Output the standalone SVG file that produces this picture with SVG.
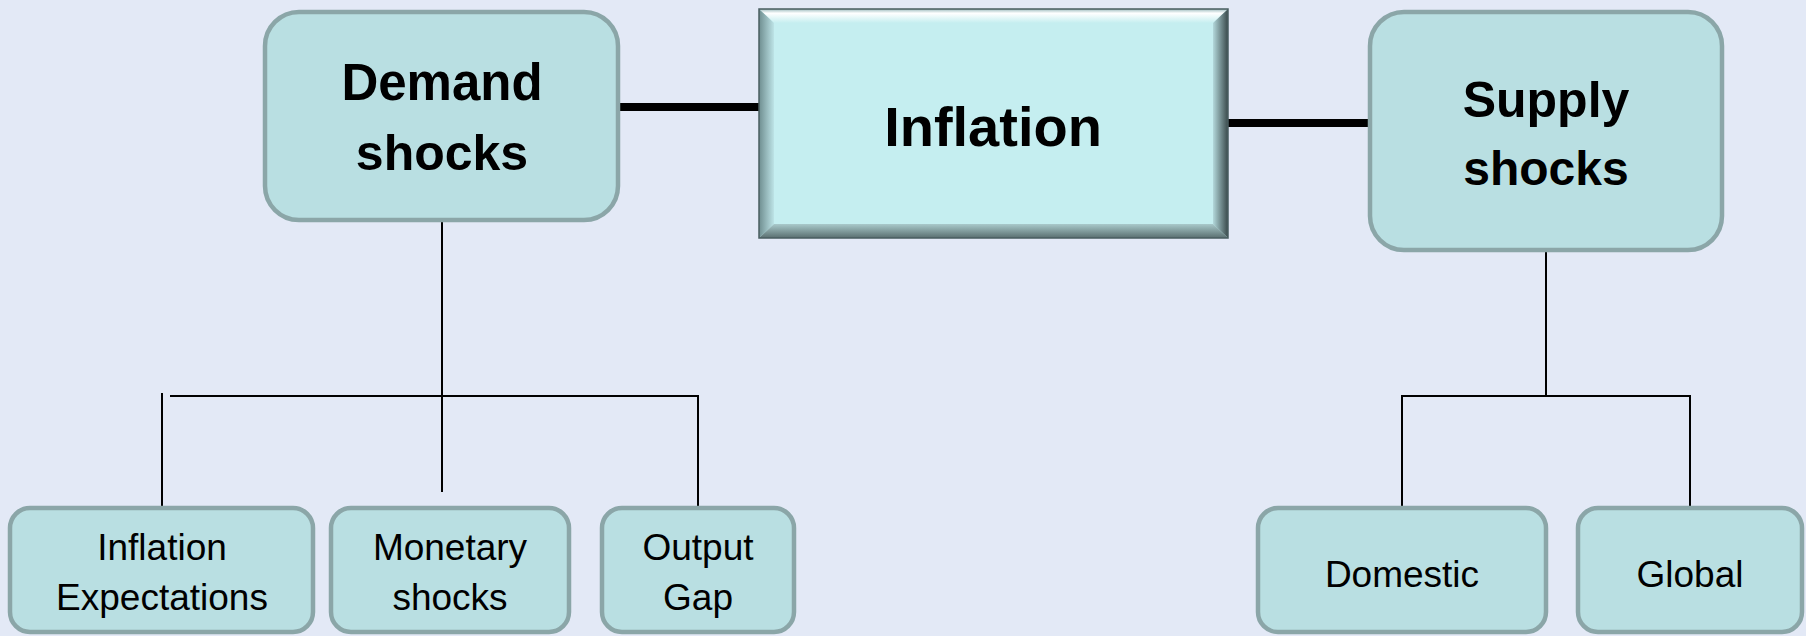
<svg xmlns="http://www.w3.org/2000/svg" width="1806" height="636" viewBox="0 0 1806 636">
<defs>
<style>
.box{fill:#b9dfe2;stroke:#8ba6a8;stroke-width:4.5}
.big{font-family:"Liberation Sans",Arial,sans-serif;font-weight:bold;font-size:50px;fill:#000;text-anchor:middle}
.small{font-family:"Liberation Sans",Arial,sans-serif;font-size:37px;fill:#000;text-anchor:middle}
.thin{stroke:#000;stroke-width:2;fill:none}
.thick{stroke:#000;stroke-width:8;fill:none}
</style>
<linearGradient id="bt" x1="0" y1="0" x2="0" y2="1"><stop offset="0" stop-color="#9dbcbe"/><stop offset="0.3" stop-color="#ffffff"/><stop offset="1" stop-color="#c5eef0"/></linearGradient>
<linearGradient id="bl" x1="0" y1="0" x2="1" y2="0"><stop offset="0" stop-color="#6f8e90"/><stop offset="1" stop-color="#bde3e6"/></linearGradient>
<linearGradient id="br" x1="1" y1="0" x2="0" y2="0"><stop offset="0" stop-color="#3a4a4b"/><stop offset="1" stop-color="#b3d8db"/></linearGradient>
<linearGradient id="bb" x1="0" y1="1" x2="0" y2="0"><stop offset="0" stop-color="#5a6f70"/><stop offset="1" stop-color="#a9c9cb"/></linearGradient>
</defs>
<rect width="1806" height="636" fill="#e3e9f6"/>
<g id="connectors">
<line class="thick" x1="618" y1="107" x2="760" y2="107"/>
<line class="thick" x1="1228" y1="123" x2="1370" y2="123"/>
<line class="thin" x1="442" y1="220" x2="442" y2="492"/>
<line class="thin" x1="170" y1="396" x2="699" y2="396"/>
<line class="thin" x1="162" y1="393" x2="162" y2="506"/>
<line class="thin" x1="698" y1="396" x2="698" y2="506"/>
<line class="thin" x1="1546" y1="251" x2="1546" y2="396"/>
<line class="thin" x1="1402" y1="396" x2="1690" y2="396"/>
<line class="thin" x1="1402" y1="395" x2="1402" y2="508"/>
<line class="thin" x1="1690" y1="395" x2="1690" y2="508"/>
</g>
<g id="demand">
<rect class="box" x="265" y="12" width="353" height="208" rx="34"/>
<text class="big" x="442" y="100" style="font-size:51px">Demand</text>
<text class="big" x="442" y="170">shocks</text>
</g>
<g id="inflation">
<rect x="759" y="9" width="469" height="229" fill="#c5eef0"/>
<polygon points="759,9 1228,9 1213,23 774,23" fill="url(#bt)"/>
<polygon points="759,9 774,23 774,224 759,238" fill="url(#bl)"/>
<polygon points="1228,9 1228,238 1213,224 1213,23" fill="url(#br)"/>
<polygon points="759,238 774,224 1213,224 1228,238" fill="url(#bb)"/>
<rect x="759" y="9" width="469" height="229" fill="none" stroke="#4a5e60" stroke-width="1.5"/>
<text class="big" x="993" y="146" style="font-size:56px">Inflation</text>
</g>
<g id="supply">
<rect class="box" x="1370" y="12" width="352" height="238" rx="34"/>
<text class="big" x="1546" y="117">Supply</text>
<text class="big" x="1546" y="185" style="font-size:48px">shocks</text>
</g>
<g id="expectations">
<rect class="box" x="10" y="508" width="303" height="124" rx="20"/>
<text class="small" x="162" y="560">Inflation</text>
<text class="small" x="162" y="610">Expectations</text>
</g>
<g id="monetary">
<rect class="box" x="331" y="508" width="238" height="124" rx="20"/>
<text class="small" x="450" y="560">Monetary</text>
<text class="small" x="450" y="610">shocks</text>
</g>
<g id="outputgap">
<rect class="box" x="602" y="508" width="192" height="124" rx="20"/>
<text class="small" x="698" y="560">Output</text>
<text class="small" x="698" y="610">Gap</text>
</g>
<g id="domestic">
<rect class="box" x="1258" y="508" width="288" height="124" rx="20"/>
<text class="small" x="1402" y="587">Domestic</text>
</g>
<g id="global">
<rect class="box" x="1578" y="508" width="224" height="124" rx="20"/>
<text class="small" x="1690" y="587">Global</text>
</g>
</svg>
